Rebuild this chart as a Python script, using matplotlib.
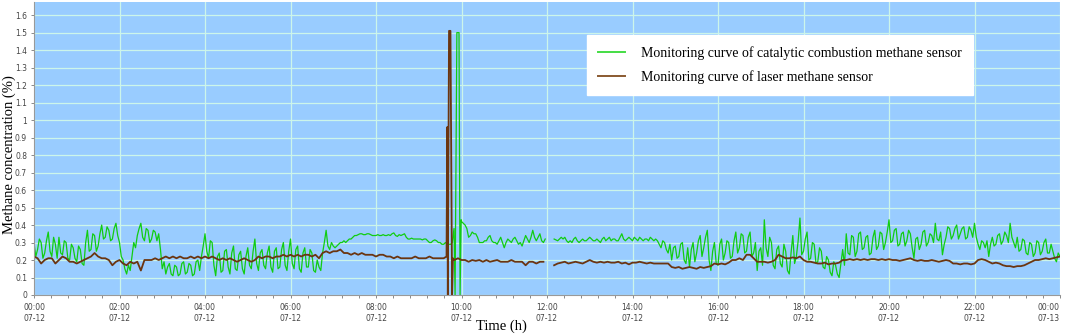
import numpy as np
import matplotlib.pyplot as plt
from matplotlib.lines import Line2D
from matplotlib.ticker import MultipleLocator, FormatStrFormatter

nan = np.nan

# time axis in minutes from 07-12 00:00, one reading every 5 min
minutes = np.arange(0, 1445, 5)
# extra catalytic readings half way between (the signal is very noisy)
minutes_mid = np.arange(2.5, 1440, 5)

# catalytic combustion sensor (%), one row per hour
catalytic = [
    0.30, 0.26, 0.30, 0.24, 0.36, 0.22, 0.29, 0.33, 0.23, 0.30, 0.20, 0.27,
    0.19, 0.26, 0.17, 0.37, 0.26, 0.34, 0.28, 0.40, 0.33, 0.37, 0.32, 0.41,
    0.30, 0.20, 0.12, 0.14, 0.30, 0.34, 0.41, 0.31, 0.37, 0.32, 0.36, 0.35,
    0.15, 0.12, 0.18, 0.11, 0.16, 0.12, 0.19, 0.13, 0.17, 0.12, 0.20, 0.22,
    0.35, 0.21, 0.30, 0.11, 0.24, 0.14, 0.26, 0.12, 0.28, 0.14, 0.25, 0.12,
    0.27, 0.15, 0.32, 0.14, 0.26, 0.15, 0.28, 0.13, 0.27, 0.16, 0.30, 0.14,
    0.32, 0.15, 0.28, 0.13, 0.27, 0.16, 0.24, 0.13, 0.16, 0.24, 0.37, 0.26,
    0.28, 0.28, 0.30, 0.31, 0.31, 0.32, 0.34, 0.345, 0.35, 0.345, 0.35, 0.34,
    0.34, 0.34, 0.345, 0.34, 0.34, 0.355, 0.335, 0.34, 0.35, 0.32, 0.325, 0.32,
    0.32, 0.315, 0.32, 0.30, 0.31, 0.31, 0.30, 0.29, 0.29, 0.29, 0.30, 0.30,
    0.42, 0.40, 0.33, 0.36, 0.35, 0.30, 0.30, 0.31, 0.34, 0.30, 0.29, 0.33,
    0.27, 0.32, 0.30, 0.33, 0.29, 0.28, 0.34, 0.30, 0.37, 0.31, 0.35, 0.30,
    nan, nan, 0.32, 0.31, 0.33, 0.33, 0.30, 0.30, 0.33, 0.30, 0.32, 0.31,
    0.33, 0.31, 0.32, 0.30, 0.33, 0.32, 0.31, 0.32, 0.31, 0.35, 0.31, 0.33,
    0.31, 0.32, 0.33, 0.31, 0.32, 0.33, 0.31, 0.31, 0.27, 0.30, 0.24, 0.20,
    0.28, 0.22, 0.30, 0.18, 0.16, 0.30, 0.24, 0.34, 0.27, 0.37, 0.14, 0.30,
    0.17, 0.32, 0.24, 0.30, 0.22, 0.36, 0.27, 0.34, 0.25, 0.36, 0.24, 0.14,
    0.27, 0.43, 0.22, 0.30, 0.15, 0.28, 0.16, 0.25, 0.12, 0.34, 0.22, 0.44,
    0.25, 0.36, 0.21, 0.29, 0.19, 0.25, 0.15, 0.20, 0.11, 0.17, 0.10, 0.26,
    0.35, 0.23, 0.33, 0.25, 0.36, 0.27, 0.34, 0.24, 0.37, 0.28, 0.35, 0.30,
    0.43, 0.31, 0.38, 0.29, 0.36, 0.31, 0.35, 0.21, 0.33, 0.29, 0.37, 0.30,
    0.34, 0.41, 0.31, 0.23, 0.33, 0.38, 0.34, 0.40, 0.35, 0.39, 0.33, 0.37,
    0.41, 0.29, 0.31, 0.27, 0.22, 0.33, 0.29, 0.35, 0.31, 0.34, 0.41, 0.30,
    0.33, 0.26, 0.31, 0.23, 0.29, 0.24, 0.30, 0.25, 0.32, 0.24, 0.25, 0.19,
    0.22,
]

catalytic_mid = [
    0.22, 0.32, 0.21, 0.31, 0.25, 0.33, 0.21, 0.24, 0.31, 0.21, 0.29, 0.21,
    0.28, 0.18, 0.30, 0.25, 0.35, 0.25, 0.35, 0.32, 0.39, 0.31, 0.38, 0.34,
    0.22, 0.15, 0.17, 0.22, 0.27, 0.38, 0.33, 0.38, 0.30, 0.37, 0.31, 0.26,
    0.19, 0.16, 0.12, 0.17, 0.11, 0.18, 0.12, 0.18, 0.11, 0.19, 0.14, 0.28,
    0.25, 0.31, 0.17, 0.22, 0.13, 0.25, 0.16, 0.24, 0.15, 0.23, 0.15, 0.22,
    0.17, 0.25, 0.18, 0.24, 0.17, 0.24, 0.16, 0.25, 0.15, 0.26, 0.17, 0.25,
    0.18, 0.26, 0.15, 0.24, 0.16, 0.26, 0.14, 0.20, 0.14, 0.30, 0.28, 0.30,
    0.27, 0.29, 0.30, 0.30, 0.32, 0.33, 0.34, 0.35, 0.345, 0.35, 0.345, 0.34,
    0.345, 0.34, 0.34, 0.345, 0.35, 0.34, 0.345, 0.345, 0.33, 0.32, 0.32, 0.32,
    0.32, 0.32, 0.31, 0.30, 0.315, 0.30, 0.29, 0.30, 0.29, 0.30, 0.30, 0.30,
    0.41, 0.38, 0.34, 0.35, 0.33, 0.30, 0.31, 0.33, 0.31, 0.30, 0.31, 0.30,
    0.30, 0.31, 0.32, 0.31, 0.30, 0.31, 0.32, 0.33, 0.33, 0.33, 0.31, 0.32,
    nan, nan, 0.315, 0.32, 0.32, 0.31, 0.31, 0.32, 0.31, 0.31, 0.31, 0.32,
    0.32, 0.31, 0.31, 0.32, 0.31, 0.33, 0.32, 0.31, 0.33, 0.32, 0.32, 0.32,
    0.33, 0.31, 0.32, 0.32, 0.31, 0.32, 0.32, 0.29, 0.31, 0.26, 0.29, 0.27,
    0.21, 0.29, 0.20, 0.27, 0.26, 0.19, 0.31, 0.22, 0.33, 0.20, 0.25, 0.18,
    0.29, 0.20, 0.31, 0.21, 0.31, 0.24, 0.35, 0.24, 0.33, 0.22, 0.30, 0.25,
    0.17, 0.27, 0.33, 0.17, 0.26, 0.18, 0.29, 0.14, 0.24, 0.18, 0.31, 0.23,
    0.32, 0.20, 0.30, 0.18, 0.27, 0.16, 0.22, 0.13, 0.19, 0.12, 0.18, 0.17,
    0.24, 0.34, 0.22, 0.35, 0.26, 0.33, 0.23, 0.33, 0.26, 0.36, 0.26, 0.36,
    0.30, 0.37, 0.28, 0.35, 0.28, 0.37, 0.27, 0.32, 0.26, 0.36, 0.28, 0.35,
    0.30, 0.32, 0.36, 0.29, 0.39, 0.32, 0.38, 0.32, 0.38, 0.32, 0.39, 0.33,
    0.33, 0.26, 0.30, 0.31, 0.29, 0.28, 0.34, 0.29, 0.36, 0.30, 0.33, 0.27,
    0.25, 0.32, 0.24, 0.30, 0.22, 0.31, 0.23, 0.30, 0.24, 0.29, 0.21, 0.24,
]

# laser sensor (%)
laser = [
    0.22, 0.21, 0.18, 0.20, 0.21, 0.21, 0.18, 0.20, 0.22, 0.21, 0.19, 0.19,
    0.18, 0.19, 0.20, 0.21, 0.22, 0.24, 0.22, 0.21, 0.21, 0.20, 0.17, 0.19,
    0.20, 0.18, 0.17, 0.19, 0.18, 0.19, 0.14, 0.20, 0.20, 0.20, 0.21, 0.20,
    0.21, 0.22, 0.21, 0.22, 0.21, 0.22, 0.21, 0.21, 0.22, 0.21, 0.22, 0.21,
    0.22, 0.21, 0.22, 0.21, 0.20, 0.21, 0.20, 0.21, 0.20, 0.19, 0.20, 0.21,
    0.20, 0.19, 0.20, 0.22, 0.21, 0.22, 0.22, 0.21, 0.22, 0.22, 0.23, 0.22,
    0.23, 0.22, 0.23, 0.22, 0.23, 0.23, 0.22, 0.23, 0.21, 0.24, 0.25, 0.24,
    0.25, 0.25, 0.26, 0.24, 0.24, 0.23, 0.24, 0.23, 0.24, 0.23, 0.23, 0.23,
    0.22, 0.23, 0.23, 0.22, 0.22, 0.21, 0.22, 0.21, 0.21, 0.21, 0.21, 0.22,
    0.21, 0.21, 0.21, 0.22, 0.21, 0.21, 0.21, 0.21, 0.21, 0.21, 0.20, 0.21,
    0.20, 0.20, 0.19, 0.20, 0.195, 0.20, 0.19, 0.20, 0.19, 0.195, 0.20, 0.19,
    0.19, 0.19, 0.20, 0.19, 0.19, 0.19, 0.17, 0.19, 0.19, 0.18, 0.19, 0.19,
    nan, nan, 0.17, 0.18, 0.185, 0.19, 0.18, 0.185, 0.19, 0.185, 0.18, 0.19,
    0.20, 0.19, 0.185, 0.19, 0.185, 0.19, 0.185, 0.185, 0.19, 0.18, 0.185, 0.175,
    0.185, 0.185, 0.19, 0.185, 0.18, 0.185, 0.18, 0.18, 0.18, 0.18, 0.18, 0.16,
    0.155, 0.16, 0.15, 0.155, 0.16, 0.155, 0.15, 0.16, 0.155, 0.16, 0.165, 0.18,
    0.175, 0.18, 0.175, 0.185, 0.20, 0.20, 0.21, 0.20, 0.23, 0.23, 0.21, 0.19,
    0.19, 0.19, 0.185, 0.19, 0.20, 0.23, 0.22, 0.21, 0.21, 0.215, 0.21, 0.22,
    0.20, 0.19, 0.19, 0.185, 0.18, 0.18, 0.185, 0.175, 0.18, 0.18, 0.185, 0.20,
    0.20, 0.205, 0.20, 0.205, 0.20, 0.205, 0.20, 0.205, 0.205, 0.20, 0.205, 0.20,
    0.205, 0.20, 0.20, 0.195, 0.20, 0.205, 0.21, 0.20, 0.195, 0.20, 0.195, 0.195,
    0.20, 0.195, 0.19, 0.195, 0.20, 0.195, 0.18, 0.18, 0.175, 0.18, 0.18, 0.175,
    0.18, 0.20, 0.205, 0.20, 0.19, 0.18, 0.185, 0.18, 0.17, 0.165, 0.165, 0.16,
    0.165, 0.165, 0.17, 0.18, 0.19, 0.20, 0.20, 0.205, 0.21, 0.205, 0.21, 0.215,
    0.22,
]

# the short spikes around 09:40-10:00 (finer time steps)
laser_spike_t = [579, 580, 580.8, 582.5, 584.5, 586.8, 588]
laser_spike_v = [0.22, 0.96, 0.0, 1.51, 1.51, 0.0, 0.21]
catalytic_spike_t = [587, 589.5, 591, 593.5, 596.5, 598, 599.5]
catalytic_spike_v = [0.30, 0.38, 0.0, 1.50, 1.50, 0.0, 0.43]

tick_labels = ['00:00\n07-12', '02:00\n07-12', '04:00\n07-12', '06:00\n07-12',
               '08:00\n07-12', '10:00\n07-12', '12:00\n07-12', '14:00\n07-12',
               '16:00\n07-12', '18:00\n07-12', '20:00\n07-12', '22:00\n07-12',
               '00:00\n07-13']


def with_spike(t, v, st, sv):
    t = np.asarray(t, float)
    v = np.asarray(v, float)
    keep = (t < st[0]) | (t > st[-1])
    tt = np.concatenate([t[keep], st])
    vv = np.concatenate([v[keep], sv])
    order = np.argsort(tt, kind='stable')
    return tt[order], vv[order]


cat_all_t = np.concatenate([minutes, minutes_mid])
cat_all_v = np.concatenate([catalytic, catalytic_mid])
cat_t, cat_v = with_spike(cat_all_t, cat_all_v, catalytic_spike_t, catalytic_spike_v)
las_t, las_v = with_spike(minutes, laser, laser_spike_t, laser_spike_v)

fig = plt.figure(figsize=(10.65, 3.35), dpi=100)
ax = fig.add_axes([34 / 1065, 40 / 335, 1026 / 1065, 293 / 335])
ax.set_facecolor('#99ccff')

ax.plot(cat_t, cat_v, color='#11cc11', lw=0.9)
ax.plot(las_t, las_v, color='#6b3510', lw=1.3)

ax.set_xlim(0, 1440)
ax.set_ylim(0, 1.675)
ax.set_xticks(np.arange(0, 1441, 120))
ax.set_xticklabels(tick_labels)
ax.get_xticklabels()[-1].set_horizontalalignment('right')
ax.xaxis.set_minor_locator(MultipleLocator(24))
ax.set_yticks(np.arange(0, 1.65, 0.1))
ax.yaxis.set_major_formatter(FormatStrFormatter('%g'))
ax.tick_params(axis='both', which='both', labelsize=5.5, colors='#777777',
               labelcolor='#444444', length=2, width=0.6)
ax.tick_params(axis='x', pad=4)
ax.tick_params(axis='y', pad=3)

ax.grid(True, which='major', color='#ccf5ea', lw=0.9)
ax.set_axisbelow(True)
for s in ['top', 'right']:
    ax.spines[s].set_visible(False)
for s in ['left', 'bottom']:
    ax.spines[s].set_color('#999999')
    ax.spines[s].set_linewidth(0.8)

ax.set_xlabel('Time (h)', family='Liberation Serif', fontsize=10.5)
ax.xaxis.set_label_coords((501 - 34) / 1026, -0.082)
ax.set_ylabel('Methane concentration (%)', family='Liberation Serif', fontsize=10.5)
ax.yaxis.set_label_coords(-0.0175, 0.478)

handles = [Line2D([], [], color='#44dd44', lw=1.4),
           Line2D([], [], color='#8a5a30', lw=1.4)]
leg = ax.legend(handles,
                ['Monitoring curve of catalytic combustion methane sensor',
                 'Monitoring curve of laser methane sensor'],
                loc='upper left', bbox_to_anchor=(0.539, 0.887),
                prop={'family': 'Liberation Serif', 'size': 10},
                frameon=True, fancybox=False, framealpha=1, edgecolor='white',
                handlelength=1.9, handletextpad=1.2, borderpad=0.8,
                labelspacing=0.75, borderaxespad=0)

fig.savefig('out.png', dpi=100)
